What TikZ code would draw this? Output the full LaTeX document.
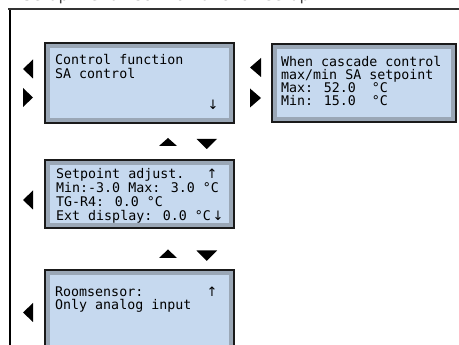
\documentclass[tikz,border=0pt]{standalone}
\usepackage{fontspec}
\setmainfont{DejaVu Sans}
\newfontfamily\lcdfont{DejaVu Sans Mono}
\newfontfamily\arrowfont{DejaVu Sans}
\definecolor{lcdblue}{HTML}{C6D9EF}
\definecolor{lcdframe}{HTML}{9AA7B6}
\definecolor{lcdedge}{HTML}{1A1A1A}
\tikzset{
  lcdbox/.style={rectangle, inner sep=0pt, fill=lcdblue, draw=lcdframe,
    line width=4pt, preaction={draw=lcdedge, line width=8.5pt}},
  lcdline/.style={anchor=base west, inner sep=0pt,
    font=\lcdfont\fontsize{13.3}{14}\selectfont, text=black},
  lcdarrow/.style={anchor=base, inner sep=0pt,
    font=\arrowfont\fontsize{13}{14}\selectfont, text=black},
  navtri/.style={fill=black}
}
\begin{document}
\begin{tikzpicture}[x=1pt,y=-1pt]
\useasboundingbox (0,0) rectangle (459,345);
\clip (0,0) rectangle (459,345);

% heading, mostly above the frame
\node[anchor=base west, inner sep=0pt, font=\fontsize{16}{18}\selectfont, text=black!75]
  (title) at (22,1) {Setup menu: Control function setup};
\draw[line width=2pt, black!80] (8,9) -- (459,9);
\draw[line width=2pt, black] (9.5,10) -- (9.5,345);

% display panels
\node[lcdbox, minimum width=183pt, minimum height=74pt] (cf) at (139.5,83) {};
\node[lcdbox, minimum width=178pt, minimum height=72pt] (cc) at (364,83) {};
\node[lcdbox, minimum width=183pt, minimum height=62pt] (sp) at (139.5,194) {};
\node[lcdbox, minimum width=183pt, minimum height=90pt] (rs) at (139.5,318) {};

% panel texts
\node[lcdline] (cf1) at (55,65) {Control function};
\node[lcdline] (cf2) at (55,79) {SA control};
\node[lcdarrow] (cf4) at (213,110) {↓};

\node[lcdline] (cc1) at (281,67) {When cascade control};
\node[lcdline] (cc2) at (281,80) {max/min SA setpoint};
\node[lcdline] (cc3) at (281,93) {Max: 52.0\ \ °C};
\node[lcdline] (cc4) at (281,106) {Min: 15.0\ \ °C};

\node[lcdline] (sp1) at (56,179) {Setpoint adjust.};
\node[lcdarrow] (sp1a) at (212,179) {↑};
\node[lcdline] (sp2) at (56,193) {Min:-3.0 Max: 3.0 °C};
\node[lcdline] (sp3) at (56,207) {TG-R4: 0.0 °C};
\node[lcdline] (sp4) at (56,221) {Ext display: 0.0 °C};
\node[lcdarrow] (sp4a) at (218,221) {↓};

\node[lcdline] (rs1) at (55,297) {Roomsensor:};
\node[lcdarrow] (rs1a) at (212,297) {↑};
\node[lcdline] (rs2) at (55,310) {Only analog input};

% navigation keys beside the first panel
\fill[navtri] (23,69) -- (33,59.5) -- (33,78.5) -- cycle;
\fill[navtri] (33,97.5) -- (23,88) -- (23,107) -- cycle;
% beside the cascade panel
\fill[navtri] (250,67.5) -- (261,58) -- (261,77) -- cycle;
\fill[navtri] (261,98) -- (250,88.5) -- (250,107.5) -- cycle;
% beside the setpoint and room sensor panels
\fill[navtri] (23,200) -- (33,190.5) -- (33,209.5) -- cycle;
\fill[navtri] (23,312.5) -- (33,303) -- (33,322) -- cycle;

% up / down keys between the panels
\fill[navtri] (159,146) -- (168,138) -- (177,146) -- cycle;
\fill[navtri] (196.5,139) -- (217,139) -- (206.75,149) -- cycle;
\fill[navtri] (159,258) -- (168,249.5) -- (177,258) -- cycle;
\fill[navtri] (196.5,250.5) -- (217,250.5) -- (206.75,261) -- cycle;
\end{tikzpicture}
\end{document}
